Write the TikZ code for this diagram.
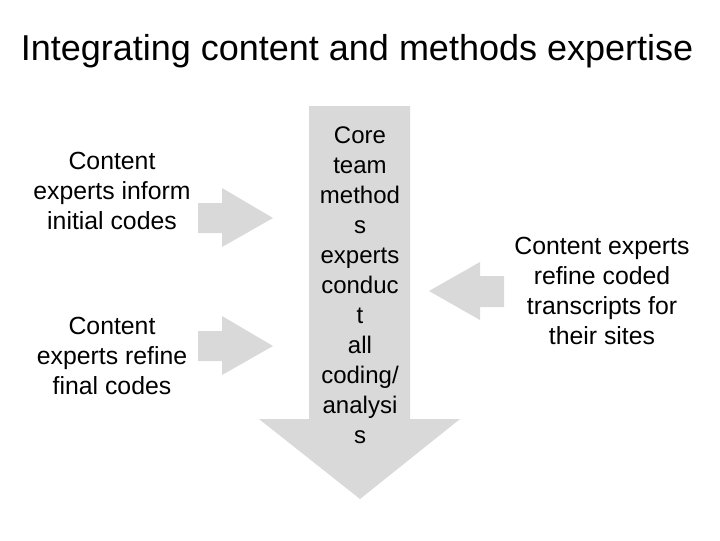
\documentclass[tikz,border=0pt]{standalone}
\usepackage{fontspec}
\setmainfont{Liberation Sans}
\definecolor{arrowgray}{RGB}{217,217,217}
\begin{document}
\begin{tikzpicture}[x=0.75pt,y=-0.75pt,
        blockarrow/.style={fill=arrowgray},
        sidetext/.style={align=center,font=\fontsize{18.6}{22.5}\selectfont},
        coretext/.style={align=center,font=\fontsize{18}{22.5}\selectfont}]
        \useasboundingbox (0,0) rectangle (720,540);
        % Draw title
        \node[anchor=base,font=\fontsize{27}{32}\selectfont] (title) at (357,60) {Integrating content and methods expertise};
        % Draw main arrow
        \fill[blockarrow] (309,106) -- (410,106) -- (410,419) -- (460,419) -- (360,499) -- (259,419) -- (309,419) -- cycle;
        % Draw arrows from the left
        \foreach \y in {218,346} {
            \fill[blockarrow] (198,\y-15) -- (222,\y-15) -- (222,\y-30) -- (273,\y)
                -- (222,\y+29) -- (222,\y+15) -- (198,\y+15) -- cycle;
        }
        % Draw arrow from the right
        \fill[blockarrow] (504,276) -- (480,276) -- (480,262) -- (429,291)
            -- (480,320) -- (480,307) -- (504,307) -- cycle;
        % Draw texts
        \node[sidetext] (inform) at (112,191) {Content\\experts inform\\initial codes};
        \node[sidetext] (refine) at (112,356) {Content\\experts refine\\final codes};
        \node[sidetext] (sites) at (602,291) {Content experts\\refine coded\\transcripts for\\their sites};
        \node[coretext] (core) at (360,285) {Core\\team\\method\\s\\experts\\conduc\\t\\all\\coding/\\analysi\\s};
    \end{tikzpicture}
\end{document}
